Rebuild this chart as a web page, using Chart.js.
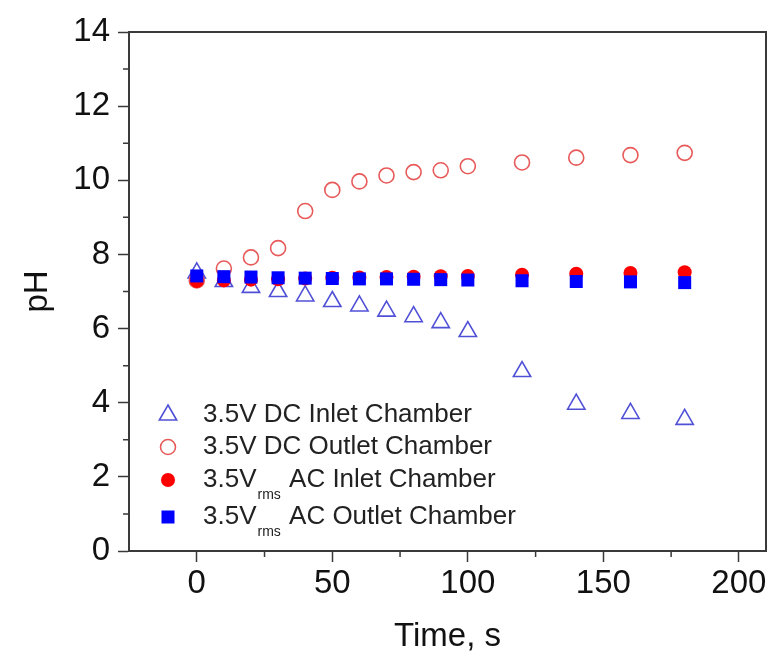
<!DOCTYPE html>
<html>
<head>
<meta charset="utf-8">
<script src="https://cdn.jsdelivr.net/npm/chart.js@4.4.1/dist/chart.umd.min.js"></script>
<style>
  html, body { margin: 0; padding: 0; background: #ffffff; }
  #wrap { width: 771px; height: 654px; position: relative; }
</style>
</head>
<body>
<div id="wrap"><canvas id="c" width="771" height="654"></canvas></div>
<script>
// ---- data ----
const times = [0, 10, 20, 30, 40, 50, 60, 70, 80, 90, 100, 120, 140, 160, 180];
const dcInlet  = [7.50, 7.27, 7.11, 7.00, 6.88, 6.73, 6.61, 6.47, 6.32, 6.16, 5.92, 4.84, 3.96, 3.71, 3.55];
const dcOutlet = [7.30, 7.62, 7.92, 8.17, 9.17, 9.74, 9.97, 10.13, 10.22, 10.27, 10.38, 10.48, 10.61, 10.68, 10.74];
const acInlet  = [7.28, 7.30, 7.32, 7.33, 7.35, 7.37, 7.38, 7.39, 7.40, 7.41, 7.42, 7.45, 7.48, 7.50, 7.52];
const acOutlet = [7.42, 7.40, 7.39, 7.37, 7.36, 7.35, 7.34, 7.34, 7.33, 7.32, 7.31, 7.29, 7.27, 7.26, 7.24];
const xTicks = [0, 50, 100, 150, 200];
const xMinorTicks = [25, 75, 125, 175];
const yTicks = [0, 2, 4, 6, 8, 10, 12, 14];
const yMinorTicks = [1, 3, 5, 7, 9, 11, 13];
const legendLabels = [
  { main: '3.5V', sub: '', rest: ' DC Inlet Chamber' },
  { main: '3.5V', sub: '', rest: ' DC Outlet Chamber' },
  { main: '3.5V', sub: 'rms', rest: ' AC Inlet Chamber' },
  { main: '3.5V', sub: 'rms', rest: ' AC Outlet Chamber' }
];

const pts = arr => arr.map((v, i) => ({ x: times[i], y: v }));
const AXIS = '#3a3a3a';
const FONT = "'Liberation Sans', Arial, sans-serif";

const styles = [
  { pointStyle: 'triangle', radius: 10, borderColor: 'rgb(80,80,215)', backgroundColor: 'rgba(0,0,0,0)', borderWidth: 1.6 },
  { pointStyle: 'circle', radius: 7.5, borderColor: 'rgb(232,90,90)', backgroundColor: 'rgba(0,0,0,0)', borderWidth: 1.6 },
  { pointStyle: 'circle', radius: 7, borderColor: '#ff0000', backgroundColor: '#ff0000', borderWidth: 0 },
  { pointStyle: 'rect', radius: 9.2, borderColor: '#0000ff', backgroundColor: '#0000ff', borderWidth: 0 }
];
const series = [dcInlet, dcOutlet, acInlet, acOutlet];
const orders = [4, 3, 2, 1];

const datasets = series.map((s, i) => ({
  label: legendLabels[i].main + legendLabels[i].sub + legendLabels[i].rest,
  data: pts(s),
  showLine: false,
  order: orders[i],
  pointStyle: styles[i].pointStyle,
  pointRadius: styles[i].radius,
  pointHoverRadius: styles[i].radius,
  pointBorderColor: styles[i].borderColor,
  pointBackgroundColor: styles[i].backgroundColor,
  pointBorderWidth: styles[i].borderWidth,
  borderColor: styles[i].borderColor,
  backgroundColor: styles[i].backgroundColor
}));

const framePlugin = {
  id: 'frame',
  afterDraw(chart) {
    const { ctx, chartArea: a } = chart;
    ctx.save();
    ctx.strokeStyle = AXIS;
    ctx.lineWidth = 2;
    ctx.strokeRect(a.left, a.top, a.right - a.left, a.bottom - a.top);
    // minor ticks
    ctx.lineWidth = 1.5;
    const xs = chart.scales.x, ys = chart.scales.y;
    ctx.beginPath();
    xMinorTicks.forEach(v => {
      const px = xs.getPixelForValue(v);
      ctx.moveTo(px, a.bottom);
      ctx.lineTo(px, a.bottom + 6);
    });
    yMinorTicks.forEach(v => {
      const py = ys.getPixelForValue(v);
      ctx.moveTo(a.left, py);
      ctx.lineTo(a.left - 6, py);
    });
    ctx.stroke();
    ctx.restore();
  }
};

const legendPlugin = {
  id: 'customLegend',
  afterDraw(chart) {
    const { ctx } = chart;
    const rowsY = [415, 447, 480, 517];
    const markerX = 168;
    const textX = 203;
    ctx.save();
    legendLabels.forEach((lab, i) => {
      const st = styles[i];
      const y = rowsY[i];
      ctx.fillStyle = st.backgroundColor;
      ctx.strokeStyle = st.borderColor;
      ctx.lineWidth = st.borderWidth;
      Chart.helpers.drawPoint(ctx, { pointStyle: st.pointStyle, radius: st.radius, rotation: 0, borderWidth: st.borderWidth }, markerX, y);
      ctx.fillStyle = '#222';
      ctx.textBaseline = 'middle';
      ctx.textAlign = 'left';
      ctx.font = '26px ' + FONT;
      let x = textX;
      ctx.fillText(lab.main, x, y);
      x += ctx.measureText(lab.main).width;
      if (lab.sub) {
        ctx.font = '14px ' + FONT;
        ctx.fillText(lab.sub, x + 1, y + 15);
        x += ctx.measureText(lab.sub).width + 2;
        ctx.font = '26px ' + FONT;
      }
      ctx.fillText(lab.rest, x, y);
    });
    ctx.restore();
  }
};

new Chart(document.getElementById('c'), {
  type: 'scatter',
  data: { datasets },
  plugins: [framePlugin, legendPlugin],
  options: {
    responsive: false,
    animation: false,
    events: [],
    layout: { autoPadding: false, padding: { top: 32, right: 5, left: 0, bottom: 0 } },
    plugins: { legend: { display: false }, tooltip: { enabled: false } },
    scales: {
      x: {
        type: 'linear',
        min: -25,
        max: 210,
        afterBuildTicks: s => { s.ticks = xTicks.map(v => ({ value: v })); },
        afterFit: s => { s.height = 103; s.paddingLeft = 0; s.paddingRight = 0; },
        grid: { drawOnChartArea: false, drawTicks: true, tickLength: 11, tickColor: AXIS, tickWidth: 1.5 },
        border: { display: true, color: AXIS, width: 2 },
        ticks: { color: '#111', font: { family: FONT, size: 33 }, padding: 2, maxRotation: 0 },
        title: { display: true, text: 'Time, s', color: '#111', font: { family: FONT, size: 33, lineHeight: 1 }, padding: { top: 0, bottom: 1 } }
      },
      y: {
        type: 'linear',
        min: 0,
        max: 14,
        afterBuildTicks: s => { s.ticks = yTicks.map(v => ({ value: v })); },
        afterFit: s => { s.width = 129; s.paddingTop = 0; s.paddingBottom = 0; },
        grid: { drawOnChartArea: false, drawTicks: true, tickLength: 11, tickColor: AXIS, tickWidth: 1.5 },
        border: { display: true, color: AXIS, width: 2 },
        ticks: { color: '#111', font: { family: FONT, size: 33 }, padding: 8 },
        title: { display: true, text: 'pH', color: '#111', font: { family: FONT, size: 33, lineHeight: 1 }, padding: { top: 21, bottom: 0 } }
      }
    }
  }
});
</script>
</body>
</html>
